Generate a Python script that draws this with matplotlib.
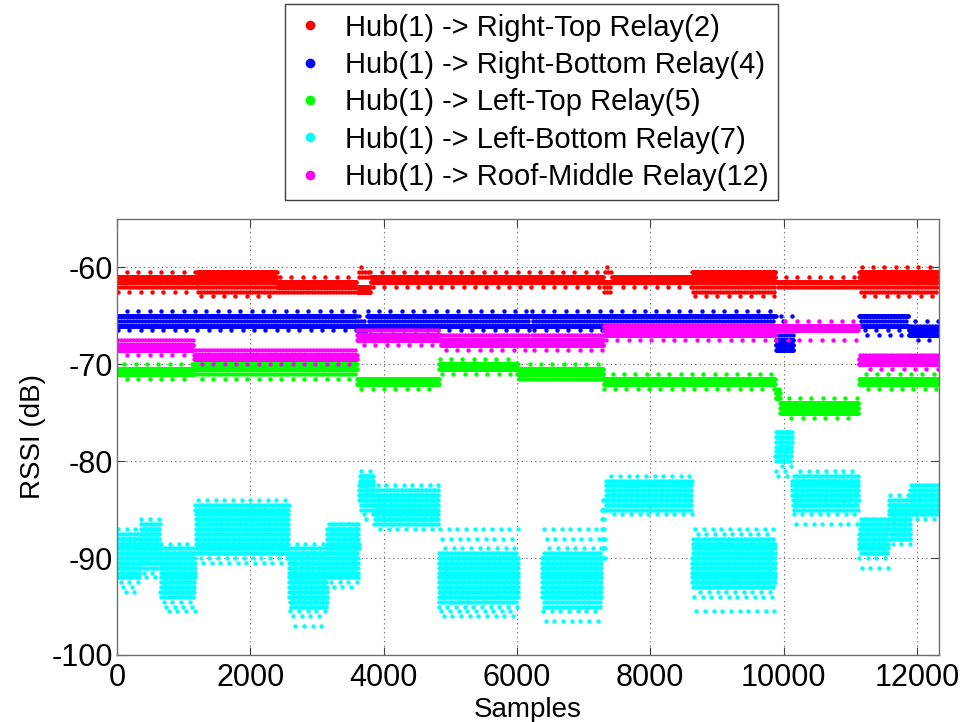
import numpy as np
import matplotlib
matplotlib.use("Agg")
import matplotlib.pyplot as plt
from matplotlib.lines import Line2D

plt.rcParams['font.family'] = ['Liberation Sans', 'DejaVu Sans']
plt.rcParams['axes.unicode_minus'] = False

# ---------------- data ----------------
# Each segment: (first sample, last sample, dense levels, medium levels, sparse levels) in dB
series_labels = [
    "Hub(1) -> Right-Top Relay(2)",
    "Hub(1) -> Right-Bottom Relay(4)",
    "Hub(1) -> Left-Top Relay(5)",
    "Hub(1) -> Left-Bottom Relay(7)",
    "Hub(1) -> Roof-Middle Relay(12)",
]
series_colors = ["#ff0000", "#0000ff", "#00ff00", "#00ffff", "#ff00ff"]

relay2_segments = [
    (0, 1200, [-61, -61.5], [-62], [-60.5, -62.5]),
    (1200, 2400, [-60.5, -61, -61.5], [-62, -62.5], [-63]),
    (2400, 3600, [-61.5, -62], [-62.5], [-61]),
    (3600, 3800, [-62, -62.5], [-60.5, -61], [-60]),
    (3800, 7300, [-61, -61.5], [], [-60.5, -62]),
    (7300, 7420, [-61.5], [-60.5, -62, -62.5], [-60]),
    (7420, 8620, [-61, -61.5], [], [-62]),
    (8620, 9880, [-60.5, -61, -61.5], [-62, -62.5], [-63]),
    (9880, 11130, [-61.5], [-62], [-61]),
    (11130, 12320, [-60.5, -61, -61.5], [-62, -62.5], [-60, -63]),
]

relay4_segments = [
    (0, 3600, [-65, -66], [-65.5], [-64.5, -66.5]),
    (3600, 3750, [-66, -66.5, -67], [-65.5], [-65]),
    (3750, 6200, [-65, -66], [-65.5], [-64.5, -66.5]),
    (6200, 9880, [-65, -66], [-65.5], [-64.5, -66.5]),
    (9880, 10150, [-67.5, -68, -68.5], [-67], [-65, -65.5]),
    (11130, 11870, [-65, -66], [-65.5], [-66.5, -67]),
    (11870, 12320, [-66.5, -67], [-66], [-65.5, -67.5]),
]

relay5_segments = [
    (0, 1150, [-70.5, -71], [], [-70, -71.5]),
    (1150, 3600, [-70, -70.5], [-71], [-71.5]),
    (3600, 4830, [-71.5, -72], [], [-72.5]),
    (4830, 6000, [-70, -70.5], [], [-69.5, -71]),
    (6000, 7300, [-70.5, -71], [-71.5], [-70]),
    (7300, 9875, [-71.5, -72], [], [-71, -72.5]),
    (9875, 9950, [-73, -73.5], [-72.5], [-74]),
    (9950, 11125, [-74, -74.5, -75], [], [-73.5, -75.5]),
    (11125, 12320, [-71.5, -72], [], [-71, -72.5]),
]

relay7_segments = [
    (0, 350, [-88, -88.5, -89, -89.5, -90, -90.5, -91], [-87.5, -91.5, -92], [-87, -92.5, -93, -93.5]),
    (350, 650, [-87, -87.5, -88, -88.5, -89, -89.5, -90, -90.5], [-86.5, -91], [-86, -91.5, -92]),
    (650, 1170, [-89.5, -90, -90.5, -91, -91.5, -92, -92.5, -93, -93.5], [-89, -94], [-88.5, -94.5, -95, -95.5]),
    (1170, 2575, [-85, -85.5, -86, -86.5, -87, -87.5, -88, -88.5, -89], [-84.5, -89.5], [-84, -90, -90.5]),
    (2575, 3150, [-89.5, -90, -90.5, -91, -91.5, -92, -92.5, -93, -93.5, -94, -94.5], [-89, -95], [-88.5, -95.5, -96, -97]),
    (3150, 3625, [-87, -87.5, -88, -88.5, -89, -89.5, -90, -90.5, -91, -91.5], [-86.5, -92], [-92.5, -93]),
    (3625, 3850, [-81.5, -82, -82.5, -83, -83.5, -84], [-84.5, -85], [-81, -85.5, -86]),
    (3850, 4825, [-83.5, -84, -84.5, -85, -85.5, -86], [-83, -86.5], [-82.5, -87]),
    (4825, 6025, [-90, -90.5, -91, -91.5, -92, -92.5, -93, -93.5, -94], [-89.5, -94.5], [-87, -88, -89, -95, -95.5, -96]),
    (6375, 7275, [-90, -90.5, -91, -91.5, -92, -92.5, -93, -93.5, -94], [-89.5, -94.5, -95], [-87, -88, -89, -95.5, -96.5]),
    (7275, 7325, [-84, -85, -86, -87, -88, -89, -90], [], []),
    (7325, 8625, [-82.5, -83, -83.5, -84, -84.5], [-82, -85], [-81.5, -85.5]),
    (8625, 9875, [-88.5, -89, -89.5, -90, -90.5, -91, -91.5, -92, -92.5], [-88, -93], [-87, -87.5, -93.5, -94, -95.5]),
    (9875, 10125, [-77, -77.5, -78, -78.5, -79, -79.5], [-80], [-80.5, -81, -81.5]),
    (10125, 11125, [-82, -82.5, -83, -83.5, -84, -84.5], [-81.5, -85], [-81, -85.5, -86.5]),
    (11125, 11575, [-86.5, -87, -87.5, -88, -88.5, -89], [-86, -89.5], [-90, -91]),
    (11575, 11900, [-84.5, -85, -85.5, -86, -86.5, -87, -87.5], [-84, -88], [-83.5, -88.5]),
    (11900, 12320, [-83, -83.5, -84, -84.5, -85], [-82.5, -85.5], [-86]),
]

relay12_segments = [
    (0, 1150, [-68, -68.5], [-67.5], [-69]),
    (1150, 3600, [-69, -69.5], [-68.5], [-70]),
    (3600, 4850, [-67, -67.5], [-66.5], [-68]),
    (4850, 6200, [-67.5, -68], [-67], [-68.5]),
    (6200, 7300, [-67.5, -68], [-67], [-68.5]),
    (7300, 9875, [-66, -66.5, -67], [], [-67.5]),
    (9875, 11125, [-66, -66.5], [], [-65.5, -67.5]),
    (11125, 12320, [-69.5, -70], [-69], [-70.5]),
]

all_segments = [relay2_segments, relay4_segments, relay5_segments,
                relay7_segments, relay12_segments]
# sample spacing of drawn points for (dense, medium, sparse) levels
tier_steps = [(9, 45, 170), (9, 45, 170), (9, 45, 170), (18, 40, 130), (9, 45, 170)]

# ---------------- expand bands into sample points ----------------
def expand(segments, steps):
    xs, ys = [], []
    k = 0
    for x0, x1, dense, mid, sparse in segments:
        for levels, step in zip((dense, mid, sparse), steps):
            for lv in levels:
                k += 1
                start = x0 + (k * 37) % step
                s = np.arange(start, x1, step)
                xs.append(s)
                ys.append(np.full(len(s), lv))
    return np.concatenate(xs), np.concatenate(ys)

fig = plt.figure(figsize=(9.63, 7.22), dpi=100)
ax = fig.add_axes([0.1215, 0.0928, 0.8535, 0.604])

for segs, steps, col, lab in zip(all_segments, tier_steps, series_colors, series_labels):
    x, y = expand(segs, steps)
    ax.plot(x, y, linestyle='none', marker='o', ms=3.2, mew=0, color=col, label=lab)

ax.set_xlim(0, 12330)
ax.set_ylim(-100, -55)
ax.set_xticks(np.arange(0, 12001, 2000))
ax.set_yticks(np.arange(-100, -59, 10))
ax.grid(True, linestyle=(0, (1, 3)), color='#606060', linewidth=0.8)
ax.tick_params(direction='in', top=True, right=True, labelsize=22, length=6,
               color='#404040')
ax.tick_params(axis='x', pad=6)
ax.tick_params(axis='y', pad=3)
for sp in ax.spines.values():
    sp.set_color('#707070')
    sp.set_linewidth(1.0)
ax.set_xlabel("Samples", fontsize=20, labelpad=3)
ax.set_ylabel("RSSI (dB)", fontsize=20, labelpad=4)

handles = [Line2D([], [], linestyle='none', marker='o', ms=7, mew=0, color=c)
           for c in series_colors]
leg = fig.legend(handles, series_labels, loc='upper center',
                 bbox_to_anchor=(0.552, 0.994), fontsize=21, frameon=True,
                 fancybox=False, edgecolor='#404040', framealpha=1,
                 handlelength=1.09, handletextpad=0.66, labelspacing=0.32,
                 borderpad=0.32, borderaxespad=0)
leg.get_frame().set_linewidth(1.0)

fig.savefig("out.png", dpi=100)
